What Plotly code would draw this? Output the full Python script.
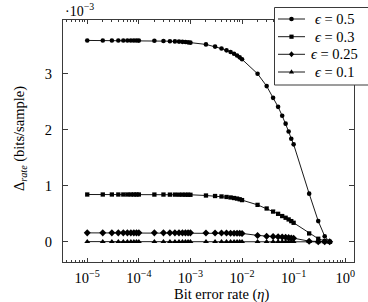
import plotly.graph_objects as go

# Bit error rate values (x)
eta = [1e-5, 2e-5, 3e-5, 4e-5, 5e-5, 6e-5, 7e-5, 8e-5, 9e-5,
       1e-4, 2e-4, 3e-4, 4e-4, 5e-4, 6e-4, 7e-4, 8e-4, 9e-4,
       1e-3, 2e-3, 3e-3, 4e-3, 5e-3, 6e-3, 7e-3, 8e-3, 9e-3,
       1e-2, 2e-2, 3e-2, 4e-2, 5e-2, 6e-2, 7e-2, 8e-2, 9e-2,
       1e-1, 2e-1, 3e-1, 4e-1, 5e-1]

# Delta_rate in units of 1e-3 bits/sample
eps_05 = [3.595, 3.595, 3.595, 3.595, 3.595, 3.595, 3.595, 3.595, 3.594,
          3.592, 3.589, 3.586, 3.582, 3.578, 3.574, 3.570, 3.566, 3.561,
          3.556, 3.524, 3.485, 3.450, 3.418, 3.388, 3.358, 3.325, 3.293,
          3.258, 3.00, 2.78, 2.57, 2.41, 2.25, 2.11, 1.97, 1.84,
          1.74, 0.86, 0.37, 0.10, 0.0]
eps_03 = [0.845, 0.845, 0.845, 0.845, 0.845, 0.845, 0.845, 0.845, 0.845,
          0.845, 0.844, 0.844, 0.843, 0.843, 0.842, 0.842, 0.841, 0.841,
          0.840, 0.827, 0.818, 0.810, 0.801, 0.792, 0.782, 0.772, 0.760,
          0.745, 0.66, 0.595, 0.54, 0.50, 0.46, 0.43, 0.40, 0.37,
          0.34, 0.15, 0.055, 0.015, 0.0]
eps_025 = [0.16, 0.16, 0.16, 0.16, 0.16, 0.16, 0.16, 0.16, 0.16,
           0.16, 0.16, 0.16, 0.16, 0.16, 0.16, 0.16, 0.16, 0.16,
           0.16, 0.159, 0.158, 0.157, 0.156, 0.155, 0.154, 0.153, 0.152,
           0.15, 0.115, 0.10, 0.095, 0.09, 0.085, 0.08, 0.075, 0.07,
           0.065, 0.012, 0.003, 0.0, 0.0]
eps_01 = [0.004, 0.004, 0.004, 0.004, 0.004, 0.004, 0.004, 0.004, 0.004,
          0.004, 0.004, 0.004, 0.004, 0.004, 0.004, 0.004, 0.004, 0.004,
          0.004, 0.004, 0.004, 0.004, 0.004, 0.004, 0.004, 0.004, 0.004,
          0.004, 0.003, 0.003, 0.003, 0.003, 0.003, 0.003, 0.003, 0.003,
          0.002, 0.001, 0.0, 0.0, 0.0]

series_names = ["<i>ϵ</i> = 0.5", "<i>ϵ</i> = 0.3", "<i>ϵ</i> = 0.25", "<i>ϵ</i> = 0.1"]
series_values = [eps_05, eps_03, eps_025, eps_01]
series_symbols = ["circle", "square", "diamond", "triangle-up"]
series_sizes = [4.6, 4.3, 5.4, 5.2]

x_major = [1e-5, 1e-4, 1e-3, 1e-2, 1e-1, 1e0]
x_major_text = ["10<sup>−5</sup>", "10<sup>−4</sup>", "10<sup>−3</sup>",
                "10<sup>−2</sup>", "10<sup>−1</sup>", "10<sup>0</sup>"]
x_minor = [k * 10.0 ** d for d in range(-6, 1) for k in range(2, 10)]
y_ticks = [0, 1, 2, 3]

FONT = "Liberation Serif, DejaVu Serif, serif"
LINE = "#3a3a3a"

# plot area geometry (pixels)
W, H = 368, 302
ML, MR, MT, MB = 63, 14, 20, 40
PW, PH = W - ML - MR, H - MT - MB


def px(x):
    return (x - ML) / PW


def py(y):
    return (H - MB - y) / PH


fig = go.Figure()
for name, vals, sym, sz in zip(series_names, series_values, series_symbols, series_sizes):
    fig.add_trace(go.Scatter(
        x=eta, y=vals, name=name, mode="lines+markers",
        line=dict(color="black", width=0.9),
        marker=dict(symbol=sym, size=sz, color="black", line=dict(width=0)),
        showlegend=False,
    ))


def marker_shape(sym, cx, cy):
    base = dict(xref="paper", yref="paper", xsizemode="pixel", ysizemode="pixel",
                xanchor=px(cx), yanchor=py(cy), fillcolor="black",
                line=dict(width=0), layer="above")
    if sym == "circle":
        base.update(type="circle", x0=-2.3, x1=2.3, y0=-2.3, y1=2.3)
    elif sym == "square":
        base.update(type="rect", x0=-2.1, x1=2.1, y0=-2.1, y1=2.1)
    elif sym == "diamond":
        base.update(type="path", path="M 0 3 L 2.6 0 L 0 -3 L -2.6 0 Z")
    else:
        base.update(type="path", path="M 0 2.8 L 2.6 -1.6 L -2.6 -1.6 Z")
    return base


# manual legend (box, sample lines, markers, labels)
leg_rows = [19, 36.7, 54.3, 72]
shapes = [dict(type="rect", xref="paper", yref="paper",
               x0=px(274.5), x1=px(372), y0=py(85), y1=py(7.5),
               line=dict(color=LINE, width=1), fillcolor="white", layer="above")]
annotations = []
for i, ry in enumerate(leg_rows):
    shapes.append(dict(type="line", xref="paper", yref="paper",
                       x0=px(278), x1=px(305), y0=py(ry), y1=py(ry),
                       line=dict(color="black", width=0.9), layer="above"))
    shapes.append(marker_shape(series_symbols[i], 291.5, ry))
    annotations.append(dict(text=series_names[i], xref="paper", yref="paper",
                            x=px(334), y=py(ry), xanchor="center", yanchor="middle",
                            showarrow=False, font=dict(family=FONT, size=14.5)))

annotations.append(dict(
    text="·10<sup>−3</sup>", xref="paper", yref="paper",
    x=0.0, y=py(10), xanchor="left", yanchor="middle",
    showarrow=False, font=dict(family=FONT, size=14)))
annotations.append(dict(
    text="Δ<sub><i>rate</i></sub> (bits/sample)", xref="paper", yref="paper",
    x=px(20), y=py(139), xanchor="center", yanchor="middle", textangle=-90,
    showarrow=False, font=dict(family=FONT, size=14.5)))
annotations.append(dict(
    text="Bit error rate (<i>η</i>)", xref="paper", yref="paper",
    x=px(222), y=py(295), xanchor="center", yanchor="middle",
    showarrow=False, font=dict(family=FONT, size=14.5)))

fig.update_layout(
    width=W, height=H,
    margin=dict(l=ML, r=MR, t=MT, b=MB, autoexpand=False),
    paper_bgcolor="white", plot_bgcolor="white",
    font=dict(family=FONT, size=13, color="black"),
    showlegend=False,
    shapes=shapes,
    annotations=annotations,
    xaxis=dict(
        type="log", range=[-5.47, 0.17], automargin=False,
        tickmode="array", tickvals=x_major, ticktext=x_major_text,
        ticks="inside", ticklen=4, tickcolor=LINE,
        minor=dict(tickmode="array", tickvals=x_minor, ticks="inside",
                   ticklen=2, tickcolor=LINE),
        showline=True, linecolor=LINE, linewidth=1, mirror="ticks",
        showgrid=False, zeroline=False, ticklabelstandoff=3,
        tickfont=dict(size=14.5),
    ),
    yaxis=dict(
        range=[-0.36, 3.96], automargin=False,
        tickmode="array", tickvals=y_ticks, ticktext=[str(v) for v in y_ticks],
        ticks="inside", ticklen=5, tickcolor=LINE,
        showline=True, linecolor=LINE, linewidth=1, mirror="ticks",
        showgrid=False, zeroline=False, ticklabelstandoff=7,
        tickfont=dict(size=14.5),
    ),
)

fig.write_html("out.html")
